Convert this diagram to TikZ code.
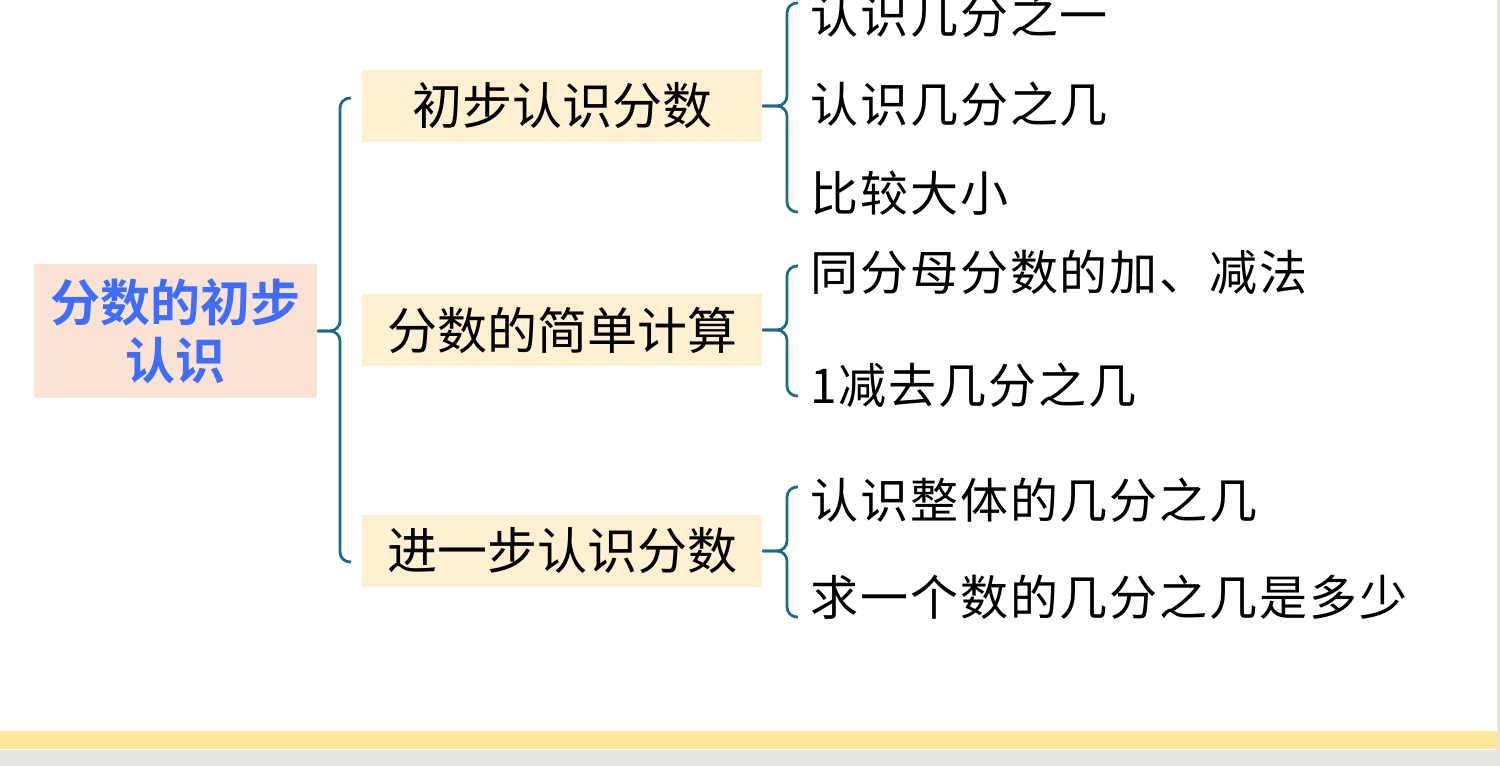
\documentclass[tikz,border=0pt]{standalone}
\usepackage{fontspec}
\newfontfamily\cjk{Noto Sans CJK SC}
\newfontfamily\cjkbf{Noto Sans CJK SC Bold}
\newfontfamily\cjkwide[LetterSpace=4]{Noto Sans CJK SC}
\usetikzlibrary{positioning, calc}

\definecolor{linkblue}{HTML}{1F6A8C}
\definecolor{rootfill}{HTML}{FAE2D4}
\definecolor{rootblue}{HTML}{3F6EFF}
\definecolor{boxfill}{HTML}{FFF0D2}
\definecolor{bandyellow}{HTML}{FFE699}
\definecolor{pagegray}{HTML}{E7E5E0}

\tikzset{
  link/.style={draw=linkblue, line width=1.4pt, rounded corners=5pt},
  rootbox/.style={fill=rootfill, minimum width=141.5pt, minimum height=67pt, align=center,
    font=\cjkbf\fontsize{25}{29}\selectfont, text=rootblue, inner sep=0pt},
  topicbox/.style={fill=boxfill, minimum width=200pt, minimum height=36pt,
    font=\cjk\fontsize{25}{29}\selectfont, inner sep=0pt},
  leaf/.style={anchor=west, font=\cjkwide\fontsize{24}{28}\selectfont, inner sep=0pt}
}
% brace from a topic to its first and last leaf
\newcommand{\curlylink}[3]{%
  \draw[link] (#2) -- ++(-11,0) |- (#1.east);
  \draw[link] (#3) -- ++(-11,0) |- (#1.east);}

\begin{document}
\begin{tikzpicture}[x=0.5pt, y=-0.5pt]
  \useasboundingbox (0,0) rectangle (1500,766);
  \fill[pagegray] (0,0) rectangle (1500,766);
  \fill[white] (0,0) rectangle (1497,750);
  \fill[bandyellow] (0,731) rectangle (1497,749);

  \node[rootbox] (root) at (175.5,331) {分数的初步\\认识};

  \node[topicbox] (first) at (562,106) {初步认识分数};
  \node[topicbox] (calc) at (562,330) {分数的简单计算};
  \node[topicbox] (further) at (562,551) {进一步认识分数};

  % main brace
  \coordinate (rootTop) at (351,98);
  \coordinate (rootBot) at (351,562);
  \draw[link] (rootTop) -- ++(-11,0) |- (root.east);
  \draw[link] (rootBot) -- ++(-11,0) |- (root.east);

  % leaves
  \node[leaf] (oneOf) at (810,15) {认识几分之一};
  \node[leaf] (someOf) at (810,104) {认识几分之几};
  \node[leaf] (compare) at (810,193) {比较大小};
  \node[leaf] (addSub) at (810,272) {同分母分数的加、减法};
  \node[leaf] (oneMinus) at (810,385) {1减去几分之几};
  \node[leaf] (whole) at (810,500) {认识整体的几分之几};
  \node[leaf] (howMuch) at (810,597) {求一个数的几分之几是多少};

  \coordinate (firstTop) at (798,3);
  \coordinate (firstBot) at (798,212);
  \coordinate (calcTop) at (798,266);
  \coordinate (calcBot) at (798,396);
  \coordinate (furtherTop) at (798,487);
  \coordinate (furtherBot) at (798,617);

  \curlylink{first}{firstTop}{firstBot}
  \curlylink{calc}{calcTop}{calcBot}
  \curlylink{further}{furtherTop}{furtherBot}
\end{tikzpicture}
\end{document}
